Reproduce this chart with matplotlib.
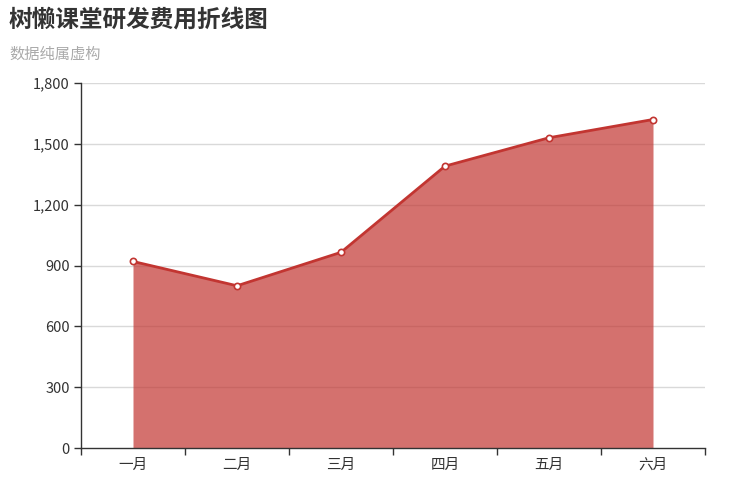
import matplotlib
matplotlib.use("Agg")
import matplotlib.pyplot as plt
from matplotlib.ticker import FuncFormatter
import numpy as np

plt.rcParams['font.family'] = ['Noto Sans CJK SC', 'DejaVu Sans']

title = "树懒课堂研发费用折线图"
subtitle = "数据纯属虚构"
categories = ["一月", "二月", "三月", "四月", "五月", "六月"]
values = [920, 800, 965, 1390, 1530, 1620]
y_ticks = [0, 300, 600, 900, 1200, 1500, 1800]

line_color = "#c23531"
axis_color = "#333333"

fig = plt.figure(figsize=(7.44, 4.92), dpi=100)
ax = fig.add_axes([81/744, (492-448)/492, (705-81)/744, (448-83)/492])

x = np.arange(len(categories)) + 0.5
ax.fill_between(x, 0, values, color=line_color, alpha=0.7, linewidth=0, zorder=2)
ax.plot(x, values, color=line_color, linewidth=2, zorder=3,
        marker='o', markersize=4.5, markerfacecolor='white',
        markeredgecolor=line_color, markeredgewidth=1.2)

ax.set_xlim(0, len(categories))
ax.set_ylim(0, 1800)

ax.set_xticks(np.arange(len(categories) + 1))
ax.set_xticklabels([])
ax.set_xticks(x, minor=True)
ax.set_xticklabels(categories, minor=True)
ax.tick_params(axis='x', which='major', length=5, width=1, color=axis_color, direction='out')
ax.tick_params(axis='x', which='minor', length=0, pad=7, labelsize=10.5, labelcolor=axis_color)

ax.set_yticks(y_ticks)
ax.yaxis.set_major_formatter(FuncFormatter(lambda v, p: f"{int(v):,}"))
ax.tick_params(axis='y', length=5, width=1, color=axis_color, direction='out',
               labelsize=10.5, labelcolor=axis_color, pad=3)

for t in y_ticks[1:]:
    ax.axhline(t, color="#d9d9d9", linewidth=1, zorder=1)

for s in ['top', 'right']:
    ax.spines[s].set_visible(False)
for s in ['left', 'bottom']:
    ax.spines[s].set_color(axis_color)
    ax.spines[s].set_linewidth(1)
    ax.spines[s].set_zorder(4)

fig.text(9/744, 1 - 20/492, title, fontsize=17, fontweight='bold', color='#333333',
         ha='left', va='center')
fig.text(9/744, 1 - 54/492, subtitle, fontsize=11, color='#aaaaaa',
         ha='left', va='center')

fig.savefig("out.png", dpi=100)
